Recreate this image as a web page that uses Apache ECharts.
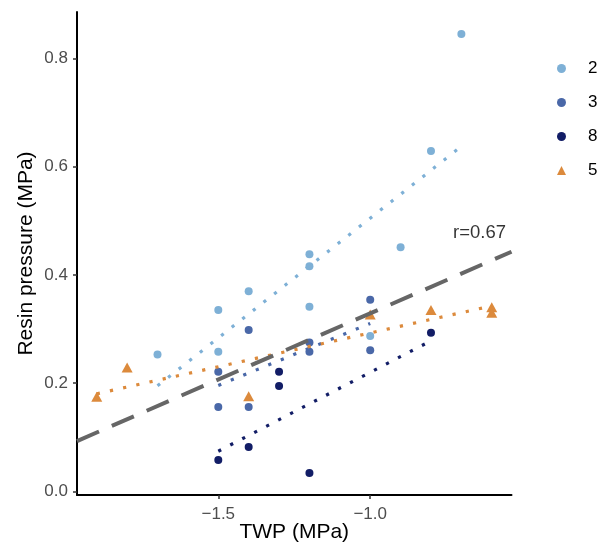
<!DOCTYPE html>
<html>
<head>
<meta charset="utf-8">
<script src="https://cdn.jsdelivr.net/npm/echarts@6/dist/echarts.min.js"></script>
<style>html,body{margin:0;padding:0;background:#fff}#c{width:609px;height:547px}</style>
</head>
<body>
<div id="c"></div>
<script>
// ---- data ----
var groups = ['2', '3', '8', '5'];
var g2x = [-1.7, -1.5, -1.5, -1.4, -1.2, -1.2, -1.2, -1.0, -0.9, -0.8, -0.7];
var g2y = [0.253, 0.335, 0.258, 0.370, 0.438, 0.416, 0.341, 0.287, 0.451, 0.629, 0.845];
var g3x = [-1.5, -1.5, -1.4, -1.4, -1.2, -1.2, -1.0, -1.0];
var g3y = [0.221, 0.156, 0.298, 0.156, 0.275, 0.258, 0.354, 0.261];
var g8x = [-1.5, -1.4, -1.3, -1.3, -1.2, -0.8];
var g8y = [0.058, 0.082, 0.221, 0.195, 0.034, 0.293];
var g5x = [-1.9, -1.8, -1.4, -1.0, -0.8, -0.6, -0.6];
var g5y = [0.175, 0.229, 0.176, 0.327, 0.335, 0.340, 0.330];
var xTicks = [-1.5, -1.0];
var yTicks = [0.0, 0.2, 0.4, 0.6, 0.8];
var overallIntercept = 0.5735;   // overall dashed fit
var overallSlope = 0.2445;
var rLabel = 'r=0.67';
var rLabelPos = [-0.64, 0.477];

var colors = ['#7eb0d6', '#4a68a8', '#121d66', '#dc8a3c'];

function zip(xs, ys) { return xs.map(function (x, i) { return [x, ys[i]]; }); }
function fit(xs, ys) {
  var n = xs.length, mx = 0, my = 0;
  for (var i = 0; i < n; i++) { mx += xs[i]; my += ys[i]; }
  mx /= n; my /= n;
  var sxy = 0, sxx = 0;
  for (i = 0; i < n; i++) { sxy += (xs[i] - mx) * (ys[i] - my); sxx += (xs[i] - mx) * (xs[i] - mx); }
  var b = sxy / sxx, a = my - b * mx;
  var lo = Math.min.apply(null, xs), hi = Math.max.apply(null, xs);
  return [[lo, a + b * lo], [hi, a + b * hi]];
}
var allX = g2x.concat(g3x, g8x, g5x), allY = g2y.concat(g3y, g8y, g5y);
var xlo = Math.min.apply(null, allX), xhi = Math.max.apply(null, allX);
var ylo = Math.min.apply(null, allY), yhi = Math.max.apply(null, allY);
var xMin = xlo - 0.05 * (xhi - xlo), xMax = xhi + 0.05 * (xhi - xlo);
var yMin = ylo - 0.05 * (yhi - ylo), yMax = yhi + 0.05 * (yhi - ylo);

var sets = [[g2x, g2y], [g3x, g3y], [g8x, g8y], [g5x, g5y]];
var series = [];
sets.forEach(function (s, i) {
  series.push({
    name: groups[i], type: 'scatter', data: zip(s[0], s[1]),
    symbol: i === 3 ? 'triangle' : 'circle',
    symbolSize: i === 3 ? [11, 10] : 8,
    itemStyle: { color: colors[i], opacity: 1 },
    z: 2
  });
});
sets.forEach(function (s, i) {
  series.push({
    name: 'fit' + groups[i], type: 'line', data: fit(s[0], s[1]),
    showSymbol: false, symbol: 'none', silent: true,
    lineStyle: { color: colors[i], width: 3.2, type: [3.2, 10.3], cap: 'butt' },
    z: 3
  });
});
series.push({
  name: 'overall', type: 'line', silent: true, showSymbol: false, symbol: 'none',
  data: [[xMin, overallIntercept + overallSlope * xMin], [xMax, overallIntercept + overallSlope * xMax]],
  lineStyle: { color: '#666666', width: 4, type: [24, 14], cap: 'butt' },
  z: 4
});
series.push({
  name: 'rlab', type: 'scatter', data: [rLabelPos], symbolSize: 0, silent: true,
  label: { show: true, position: 'inside', formatter: rLabel, color: '#000',
    fontSize: 18.5, fontFamily: 'Liberation Sans' },
  z: 5
});

var fmt = function (v) {
  var s = v.toFixed(1);
  return s.charAt(0) === '-' ? '\u2212' + s.slice(1) : s;
};

var chart = echarts.init(document.getElementById('c'), null, { renderer: 'canvas' });
chart.setOption({
  animation: false,
  backgroundColor: '#fff',
  grid: { left: 77, top: 12, right: 97.5, bottom: 52, containLabel: false, outerBoundsMode: 'none' },
  legend: {
    data: groups, orient: 'vertical', left: 557, top: 60, padding: 0,
    itemWidth: 9, itemHeight: 9, itemGap: 17,
    textStyle: { fontSize: 17, lineHeight: 16, color: '#000', fontFamily: 'Liberation Sans', padding: [0, 0, 0, 17] },
    selectedMode: false
  },
  xAxis: {
    type: 'value', min: xMin, max: xMax,
    name: 'TWP (MPa)', nameLocation: 'middle', nameGap: 27, nameMoveOverlap: false,
    nameTextStyle: { fontSize: 21, color: '#000', fontFamily: 'Liberation Sans' },
    axisLine: { show: true, onZero: false, lineStyle: { color: '#000', width: 2 } },
    axisTick: { show: true, length: 4, customValues: xTicks, lineStyle: { color: '#333', width: 1.5 } },
    axisLabel: { customValues: xTicks, formatter: fmt, margin: 11, fontSize: 17, color: '#4d4d4d', fontFamily: 'Liberation Sans' },
    splitLine: { show: false }
  },
  yAxis: {
    type: 'value', min: yMin, max: yMax,
    name: 'Resin pressure (MPa)', nameLocation: 'middle', nameGap: 40, nameMoveOverlap: false,
    nameTextStyle: { fontSize: 21, color: '#000', fontFamily: 'Liberation Sans' },
    axisLine: { show: true, onZero: false, lineStyle: { color: '#000', width: 2 } },
    axisTick: { show: true, length: 4, customValues: yTicks, lineStyle: { color: '#333', width: 1.5 } },
    axisLabel: { customValues: yTicks, formatter: fmt, margin: 9, fontSize: 17, color: '#4d4d4d', fontFamily: 'Liberation Sans' },
    splitLine: { show: false }
  },
  series: series
});
</script>
</body>
</html>
